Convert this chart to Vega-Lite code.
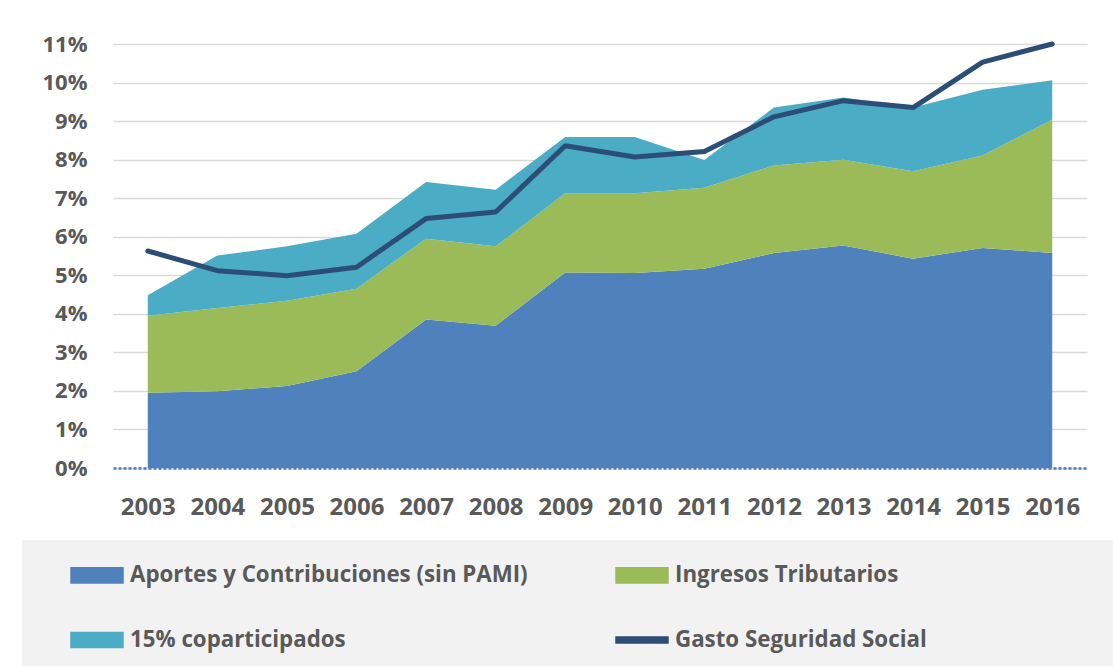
{
  "$schema": "https://vega.github.io/schema/vega-lite/v6.json",
  "width": 974,
  "height": 424,
  "autosize": {"type": "none"},
  "padding": {"left": 113, "top": 44, "right": 26, "bottom": 198},
  "background": "white",
  "config": {
    "view": {"stroke": null},
    "font": "Open Sans",
    "axisX": {
      "title": null, "labelAngle": 0, "labelFont": "Open Sans", "labelFontWeight": "bold",
      "labelFontSize": 24, "labelColor": "#595959", "labelPadding": 27,
      "ticks": false, "grid": false, "domainColor": "#4a7ebb", "domainDash": [3, 2],
      "domainWidth": 2.5, "zindex": 1
    },
    "axisY": {
      "title": null, "labelOverlap": false, "domain": false, "ticks": false,
      "gridColor": "#d9d9d9", "gridWidth": 1.5,
      "labelFont": "Open Sans", "labelFontWeight": "bold", "labelFontSize": 22,
      "labelColor": "#595959", "labelPadding": 26
    },
    "legend": {
      "labelFont": "Open Sans", "labelFontWeight": "bold", "labelFontSize": 22.3, "labelColor": "#595959"
    }
  },
  "datasets": {
    "areas": [
      {"year": "2003", "serie": "Aportes y Contribuciones (sin PAMI)", "valor": 1.95},
      {"year": "2004", "serie": "Aportes y Contribuciones (sin PAMI)", "valor": 1.99},
      {"year": "2005", "serie": "Aportes y Contribuciones (sin PAMI)", "valor": 2.13},
      {"year": "2006", "serie": "Aportes y Contribuciones (sin PAMI)", "valor": 2.51},
      {"year": "2007", "serie": "Aportes y Contribuciones (sin PAMI)", "valor": 3.85},
      {"year": "2008", "serie": "Aportes y Contribuciones (sin PAMI)", "valor": 3.69},
      {"year": "2009", "serie": "Aportes y Contribuciones (sin PAMI)", "valor": 5.07},
      {"year": "2010", "serie": "Aportes y Contribuciones (sin PAMI)", "valor": 5.06},
      {"year": "2011", "serie": "Aportes y Contribuciones (sin PAMI)", "valor": 5.17},
      {"year": "2012", "serie": "Aportes y Contribuciones (sin PAMI)", "valor": 5.58},
      {"year": "2013", "serie": "Aportes y Contribuciones (sin PAMI)", "valor": 5.77},
      {"year": "2014", "serie": "Aportes y Contribuciones (sin PAMI)", "valor": 5.43},
      {"year": "2015", "serie": "Aportes y Contribuciones (sin PAMI)", "valor": 5.71},
      {"year": "2016", "serie": "Aportes y Contribuciones (sin PAMI)", "valor": 5.58},
      {"year": "2003", "serie": "Ingresos Tributarios", "valor": 2.00},
      {"year": "2004", "serie": "Ingresos Tributarios", "valor": 2.16},
      {"year": "2005", "serie": "Ingresos Tributarios", "valor": 2.21},
      {"year": "2006", "serie": "Ingresos Tributarios", "valor": 2.14},
      {"year": "2007", "serie": "Ingresos Tributarios", "valor": 2.10},
      {"year": "2008", "serie": "Ingresos Tributarios", "valor": 2.06},
      {"year": "2009", "serie": "Ingresos Tributarios", "valor": 2.06},
      {"year": "2010", "serie": "Ingresos Tributarios", "valor": 2.07},
      {"year": "2011", "serie": "Ingresos Tributarios", "valor": 2.10},
      {"year": "2012", "serie": "Ingresos Tributarios", "valor": 2.27},
      {"year": "2013", "serie": "Ingresos Tributarios", "valor": 2.23},
      {"year": "2014", "serie": "Ingresos Tributarios", "valor": 2.27},
      {"year": "2015", "serie": "Ingresos Tributarios", "valor": 2.40},
      {"year": "2016", "serie": "Ingresos Tributarios", "valor": 3.46},
      {"year": "2003", "serie": "15% coparticipados", "valor": 0.53},
      {"year": "2004", "serie": "15% coparticipados", "valor": 1.36},
      {"year": "2005", "serie": "15% coparticipados", "valor": 1.41},
      {"year": "2006", "serie": "15% coparticipados", "valor": 1.43},
      {"year": "2007", "serie": "15% coparticipados", "valor": 1.47},
      {"year": "2008", "serie": "15% coparticipados", "valor": 1.47},
      {"year": "2009", "serie": "15% coparticipados", "valor": 1.46},
      {"year": "2010", "serie": "15% coparticipados", "valor": 1.46},
      {"year": "2011", "serie": "15% coparticipados", "valor": 0.72},
      {"year": "2012", "serie": "15% coparticipados", "valor": 1.50},
      {"year": "2013", "serie": "15% coparticipados", "valor": 1.61},
      {"year": "2014", "serie": "15% coparticipados", "valor": 1.65},
      {"year": "2015", "serie": "15% coparticipados", "valor": 1.70},
      {"year": "2016", "serie": "15% coparticipados", "valor": 1.02}
    ],
    "gasto": [
      {"year": "2003", "valor": 5.63},
      {"year": "2004", "valor": 5.12},
      {"year": "2005", "valor": 4.99},
      {"year": "2006", "valor": 5.21},
      {"year": "2007", "valor": 6.47},
      {"year": "2008", "valor": 6.64},
      {"year": "2009", "valor": 8.36},
      {"year": "2010", "valor": 8.07},
      {"year": "2011", "valor": 8.21},
      {"year": "2012", "valor": 9.11},
      {"year": "2013", "valor": 9.53},
      {"year": "2014", "valor": 9.35},
      {"year": "2015", "valor": 10.53},
      {"year": "2016", "valor": 11.0}
    ]
  },
  "layer": [
    {
      "data": {"name": "areas"},
      "transform": [
        {"calculate": "indexof(['Aportes y Contribuciones (sin PAMI)','Ingresos Tributarios','15% coparticipados'], datum.serie)", "as": "orden"}
      ],
      "mark": {"type": "area", "opacity": 1},
      "encoding": {
        "x": {
          "field": "year", "type": "ordinal",
          "scale": {"type": "point", "padding": 0.5},
          "axis": {"title": null}
        },
        "y": {
          "field": "valor", "type": "quantitative", "stack": "zero",
          "scale": {"domain": [0, 11], "nice": false},
          "axis": {"title": null, "values": [0,1,2,3,4,5,6,7,8,9,10,11], "labelExpr": "datum.value + '%'"}
        },
        "color": {
          "field": "serie", "type": "nominal",
          "scale": {
            "domain": ["Aportes y Contribuciones (sin PAMI)", "Ingresos Tributarios", "15% coparticipados", "Gasto Seguridad Social"],
            "range": ["#4f81bd", "#9bbb59", "#4bacc6", "#2c4d75"]
          },
          "legend": {
            "title": null, "orient": "none", "legendX": -91, "legendY": 496,
            "direction": "horizontal", "columns": 2, "columnPadding": 47, "rowPadding": 26,
            "fillColor": "#f2f2f2", "padding": 8, "symbolSize": 2704,
            "symbolType": "M-1,-0.29H1V0.29H-1Z",
            "symbolOffset": 40, "labelOffset": 6, "labelLimit": 700,
            "encode": {
              "symbols": {
                "update": {
                  "shape": {"signal": "datum.value === 'Gasto Seguridad Social' ? 'M-1,-0.12H1V0.12H-1ZM18.5,1' : 'M-1,-0.29H1V0.29H-1Z'"}
                }
              }
            }
          }
        },
        "order": {"field": "orden", "type": "quantitative"}
      }
    },
    {
      "data": {"name": "gasto"},
      "mark": {"type": "line", "strokeWidth": 5, "strokeCap": "round", "strokeJoin": "round"},
      "encoding": {
        "x": {"field": "year", "type": "ordinal", "axis": {"title": null}},
        "y": {
          "field": "valor", "type": "quantitative",
          "axis": {"title": null, "values": [0,1,2,3,4,5,6,7,8,9,10,11], "labelExpr": "datum.value + '%'"}
        },
        "color": {
          "datum": "Gasto Seguridad Social",
          "legend": {
            "title": null, "orient": "none", "legendX": -91, "legendY": 496,
            "direction": "horizontal", "columns": 2, "columnPadding": 47, "rowPadding": 26,
            "fillColor": "#f2f2f2", "padding": 8, "symbolSize": 2704,
            "symbolType": "M-1,-0.29H1V0.29H-1Z",
            "symbolOffset": 40, "labelOffset": 6, "labelLimit": 700,
            "encode": {
              "symbols": {
                "update": {
                  "shape": {"signal": "datum.value === 'Gasto Seguridad Social' ? 'M-1,-0.12H1V0.12H-1ZM18.5,1' : 'M-1,-0.29H1V0.29H-1Z'"}
                }
              }
            }
          }
        }
      }
    }
  ]
}
